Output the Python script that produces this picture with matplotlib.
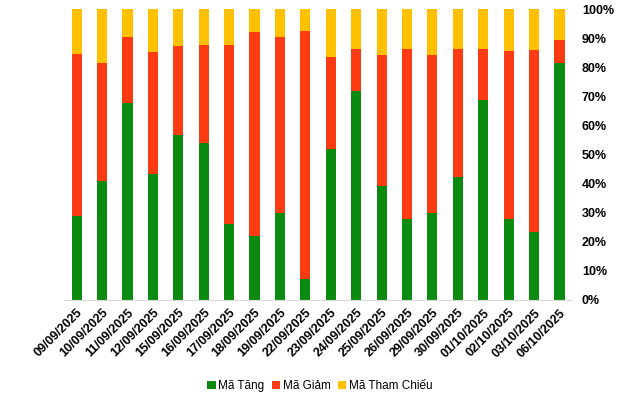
import numpy as np
import matplotlib.pyplot as plt
from matplotlib.ticker import PercentFormatter

plt.rcParams['font.family'] = ['Liberation Sans', 'DejaVu Sans']

# data (percent of codes)
dates = ["09/09/2025", "10/09/2025", "11/09/2025", "12/09/2025", "15/09/2025",
         "16/09/2025", "17/09/2025", "18/09/2025", "19/09/2025", "22/09/2025",
         "23/09/2025", "24/09/2025", "25/09/2025", "26/09/2025", "29/09/2025",
         "30/09/2025", "01/10/2025", "02/10/2025", "03/10/2025", "06/10/2025"]
tang = [29.0, 40.7, 67.7, 43.4, 56.7, 54.0, 26.2, 22.1, 29.7, 7.2,
        51.9, 71.8, 39.3, 27.8, 29.7, 42.3, 68.8, 27.8, 23.5, 81.4]
# cumulative top of red segment
tang_giam = [84.5, 81.4, 90.4, 85.2, 87.3, 87.6, 87.6, 92.1, 90.4, 92.4,
             83.5, 86.3, 84.2, 86.3, 84.2, 86.3, 86.3, 85.6, 85.9, 89.3]

giam = [b - a for a, b in zip(tang, tang_giam)]
tham_chieu = [100 - b for b in tang_giam]

fig = plt.figure(figsize=(6.4, 3.93), dpi=100)
ax = fig.add_axes([0.1, 0.237, 0.794, 0.74])

x = np.arange(len(dates))
w = 0.4
ax.bar(x, tang, w, color='#0B8A11', label='Mã Tăng')
ax.bar(x, giam, w, bottom=tang, color='#FF3B14', label='Mã Giảm')
ax.bar(x, tham_chieu, w, bottom=tang_giam, color='#FFC000', label='Mã Tham Chiếu')

ax.set_xlim(-0.5, len(dates) - 0.5)
ax.set_ylim(0, 100)
ax.set_yticks(np.arange(0, 101, 10))
ax.yaxis.set_major_formatter(PercentFormatter(decimals=0))
ax.yaxis.tick_right()
ax.tick_params(axis='y', length=0, pad=7, labelsize=9)
for t in ax.get_yticklabels():
    t.set_fontweight('bold')

ax.set_xticks(x)
ax.set_xticklabels(dates, rotation=45, ha='right', rotation_mode='anchor',
                   fontsize=9, fontweight='bold')
ax.tick_params(axis='x', length=0, pad=5)

for s in ['top', 'left', 'right']:
    ax.spines[s].set_visible(False)
ax.spines['bottom'].set_color('#D9D9D9')

fig.legend(loc='lower center', bbox_to_anchor=(0.5, -0.025), ncol=3, frameon=False,
           fontsize=8.5, handlelength=0.7, handleheight=0.7, handletextpad=0.25,
           columnspacing=0.6)

fig.savefig('out.png', dpi=100)
